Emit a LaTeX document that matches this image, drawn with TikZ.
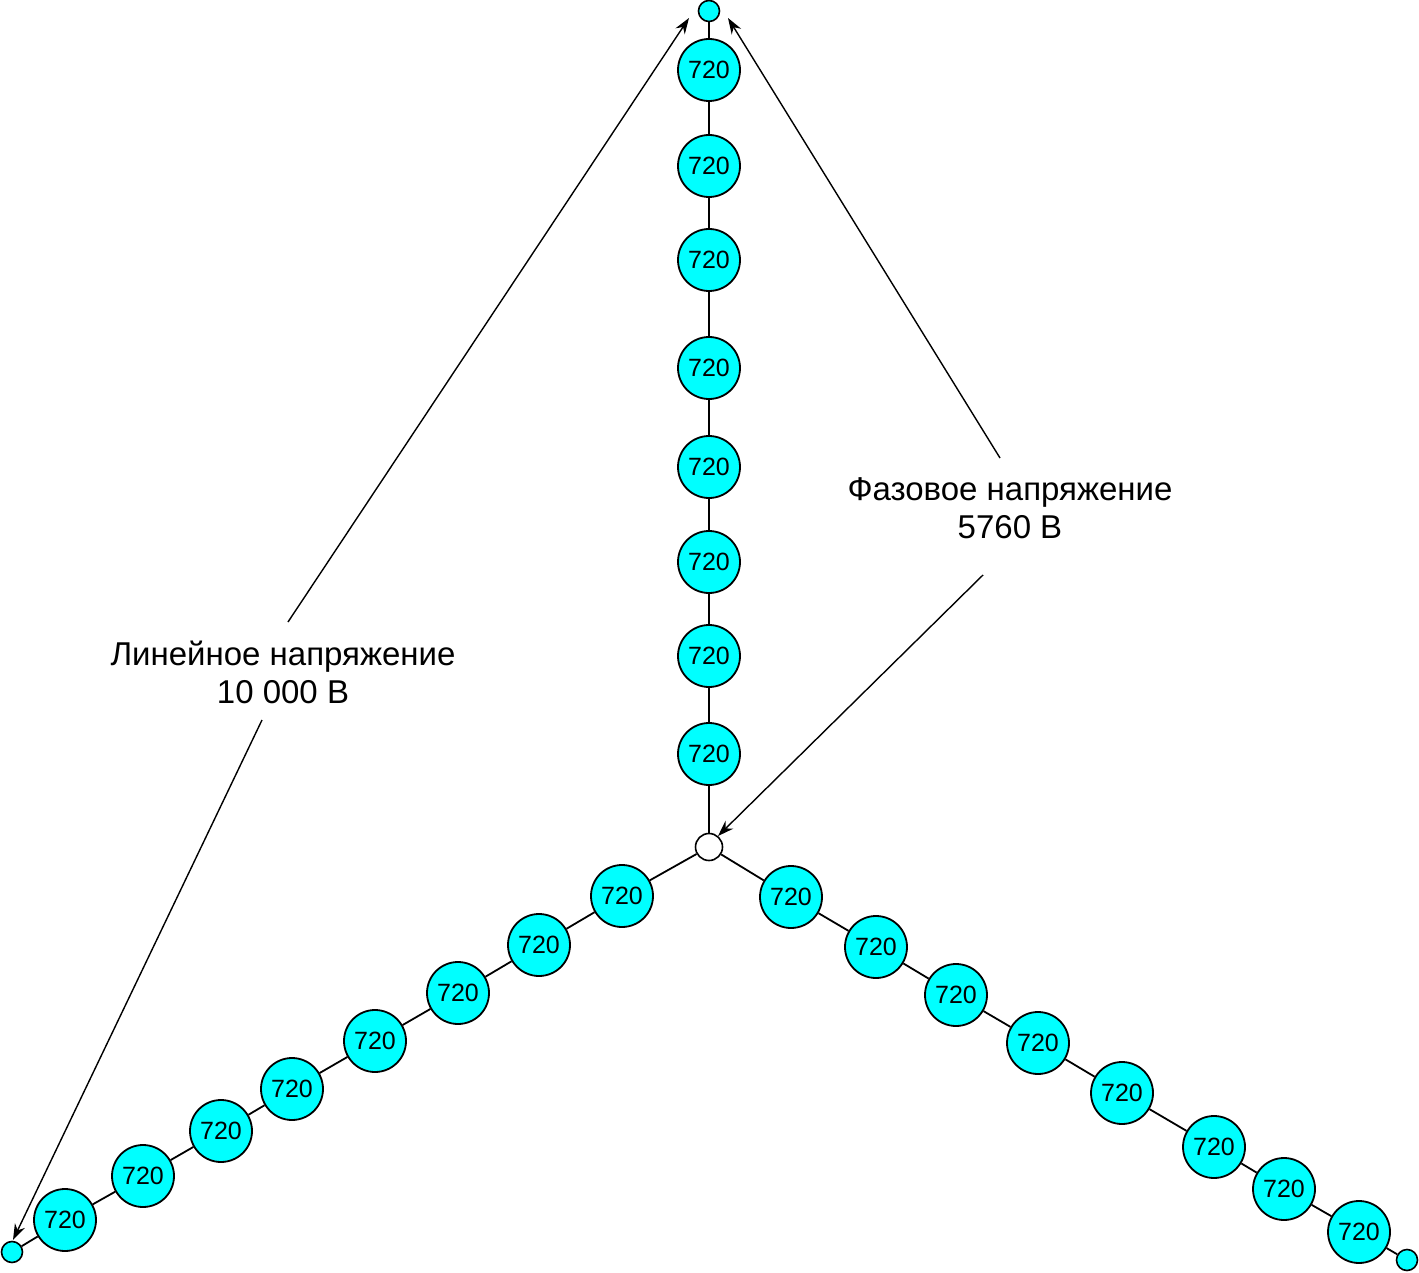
\documentclass[tikz,border=0pt]{standalone}
\usepackage{fontspec}
\setmainfont{Liberation Sans}
\usetikzlibrary{arrows.meta}
\definecolor{aqua}{RGB}{0,255,255}
\begin{document}
\begin{tikzpicture}[x=1pt,y=-1pt,
  res/.style={circle,draw=black,fill=aqua,line width=1.8pt,minimum size=62pt,inner sep=0pt,font=\fontsize{25}{29}\selectfont},
  term/.style={circle,draw=black,fill=aqua,line width=1.6pt,minimum size=21pt,inner sep=0pt},
  neutral/.style={circle,draw=black,fill=white,line width=1.6pt,minimum size=27pt,inner sep=0pt},
  wire/.style={line width=1.8pt},
  lbl/.style={align=center,font=\fontsize{33}{38}\selectfont},
  arr/.style={line width=1.4pt,-{Stealth[length=16pt,width=11pt]}}]
\useasboundingbox[fill=white] (0,0) rectangle (1419,1273);
% terminals
\node[term] (T) at (709,11) {};
\node[term] (L) at (12,1252) {};
\node[term] (R) at (1407,1260) {};
\node[neutral] (N) at (709,847) {};
% vertical branch
\foreach \i/\y in {1/70,2/166,3/260,4/368,5/467,6/562,7/656,8/754}
  \node[res] (v\i) at (709,\y) {720};
% left branch
\foreach \i/\x/\y in {1/622/896,2/539/945,3/458/993,4/375/1041,5/292/1089,6/221/1131,7/143/1176,8/65/1220}
  \node[res] (l\i) at (\x,\y) {720};
% right branch
\foreach \i/\x/\y in {1/791/897,2/876/947,3/956/995,4/1038/1043,5/1122/1093,6/1214/1147,7/1284/1189,8/1359/1232}
  \node[res] (r\i) at (\x,\y) {720};
% wires
\draw[wire] (T) -- (v1) -- (v2) -- (v3) -- (v4) -- (v5) -- (v6) -- (v7) -- (v8) -- (N);
\draw[wire] (N) -- (l1) -- (l2) -- (l3) -- (l4) -- (l5) -- (l6) -- (l7) -- (l8) -- (L);
\draw[wire] (N) -- (r1) -- (r2) -- (r3) -- (r4) -- (r5) -- (r6) -- (r7) -- (r8) -- (R);
% labels
\node[lbl] (lin) at (283,672) {Линейное напряжение\\10 000 В};
\node[lbl] (faz) at (1010,508) {Фазовое напряжение\\5760 В};
% arrow ends
\coordinate (a1s) at (288,622);
\coordinate (a1e) at (689,18);
\coordinate (a2s) at (262,720);
\coordinate (a2e) at (13,1240);
\coordinate (a3s) at (1000,458);
\coordinate (a3e) at (728,18);
\coordinate (a4s) at (983,575);
\coordinate (a4e) at (718,836);
\draw[arr] (a1s) -- (a1e);
\draw[arr] (a2s) -- (a2e);
\draw[arr] (a3s) -- (a3e);
\draw[arr] (a4s) -- (a4e);
\end{tikzpicture}
\end{document}
